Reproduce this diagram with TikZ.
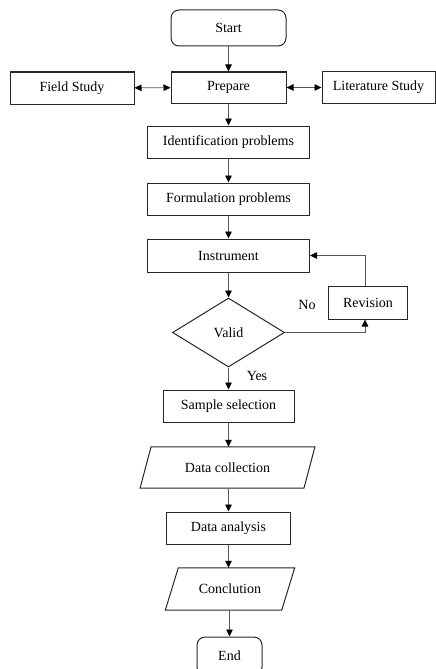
\documentclass[tikz,border=0pt]{standalone}
\usepackage{fontspec}
\setmainfont{Liberation Serif}
\usetikzlibrary{arrows.meta,shapes.geometric}
\begin{document}
\begin{tikzpicture}[x=1pt,y=-1pt,
  box/.style={draw=black!85,line width=1pt,inner sep=0pt,align=center,font=\fontsize{14}{16}\selectfont},
  term/.style={box,rounded corners=8pt},
  dec/.style={box,diamond,minimum width=112pt,minimum height=69pt},
  io/.style={inner sep=0pt,align=center,font=\fontsize{14}{16}\selectfont},
  para/.style={draw=black!85,line width=1pt},
  conn/.style={draw=black!65,line width=0.8pt,-{Triangle[length=7pt,width=6.5pt,color=black]}},
  dconn/.style={draw=black!65,line width=0.8pt,{Triangle[length=7pt,width=6.5pt,color=black]}-{Triangle[length=7pt,width=6.5pt,color=black]}},
  lbl/.style={font=\fontsize{14}{16}\selectfont}]
\useasboundingbox (0,0) rectangle (436,669);
\node[term,minimum width=115pt,minimum height=36pt] (start) at (228.5,28) {Start};
\node[box,minimum width=115pt,minimum height=31pt] (prep) at (228.5,87.5) {Prepare};
\node[box,minimum width=124pt,minimum height=32pt] (field) at (72,88) {Field Study};
\node[box,minimum width=113pt,minimum height=32pt] (lit) at (378.5,87.5) {Literature Study};
\node[box,minimum width=162pt,minimum height=32pt] (ident) at (228.5,142) {Identification problems};
\node[box,minimum width=162pt,minimum height=32pt] (form) at (228.5,199) {Formulation problems};
\node[box,minimum width=162pt,minimum height=33pt] (instr) at (228.5,255.5) {Instrument};
\node[dec] (valid) at (228.5,332.5) {Valid};
\node[box,minimum width=79pt,minimum height=33pt] (rev) at (368,302.5) {Revision};
\node[box,minimum width=131pt,minimum height=32pt] (sample) at (228.5,406) {Sample selection};
\node[io,minimum width=163.5pt,minimum height=41pt] (dc) at (227.5,467.5) {Data collection};
\draw[para] ([xshift=5.5pt]dc.north west) -- ([xshift=5.5pt]dc.north east) -- ([xshift=-5.5pt]dc.south east) -- ([xshift=-5.5pt]dc.south west) -- cycle;
\node[box,minimum width=124pt,minimum height=32pt] (da) at (228.5,528) {Data analysis};
\node[io,minimum width=116pt,minimum height=42pt] (conc) at (230,589) {Conclution};
\draw[para] ([xshift=6.5pt]conc.north west) -- ([xshift=6.5pt]conc.north east) -- ([xshift=-6.5pt]conc.south east) -- ([xshift=-6.5pt]conc.south west) -- cycle;
\node[term,minimum width=65pt,minimum height=38pt] (end) at (229.5,656) {End};
\node[lbl] (no) at (307,305) {No};
\node[lbl] (yes) at (257,376) {Yes};
\draw[conn] (start) -- (prep);
\draw[dconn] (field) -- (prep);
\draw[dconn] (prep) -- (lit);
\draw[conn] (prep) -- (ident);
\draw[conn] (ident) -- (form);
\draw[conn] (form) -- (instr);
\draw[conn] (instr) -- (valid);
\draw[conn] (valid) -- (sample);
\draw[conn] (valid.east) -| ([xshift=-3pt]rev.south);
\draw[conn] ([xshift=-3pt]rev.north) |- (instr.east);
\draw[conn] (sample) -- (sample |- dc.north);
\draw[conn] (dc.south -| da) -- (da);
\draw[conn] (da) -- (da |- conc.north);
\draw[conn] (conc.south -| end) -- (end);
\end{tikzpicture}
\end{document}
